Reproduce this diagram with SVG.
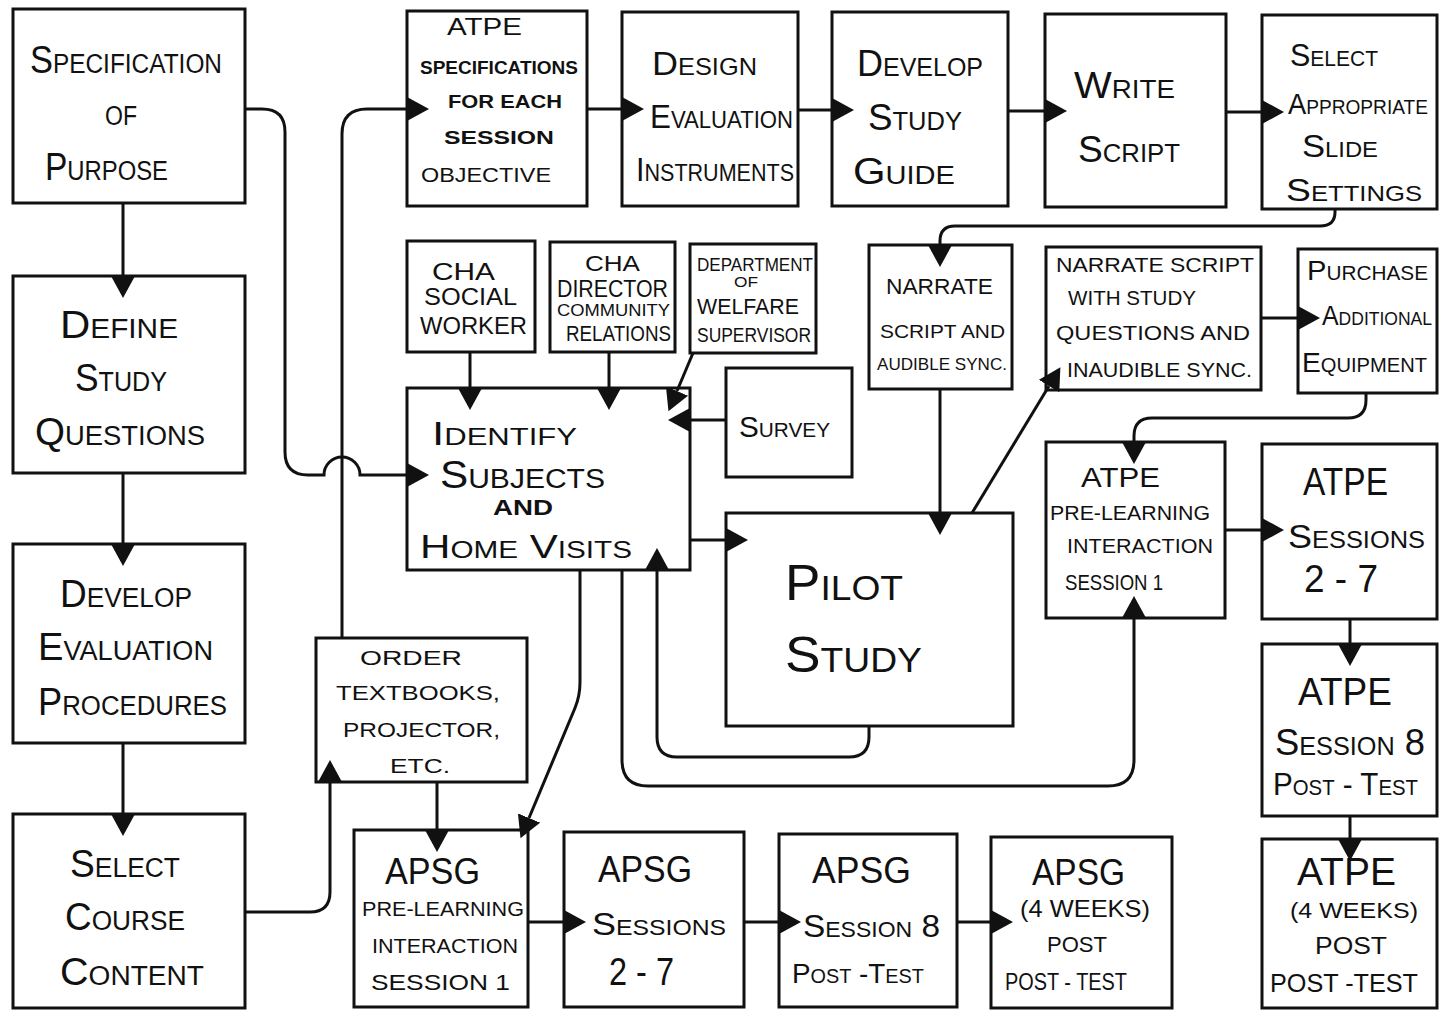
<svg xmlns="http://www.w3.org/2000/svg" width="1443" height="1012" viewBox="0 0 1443 1012">
<style>
.box{fill:#fff;stroke:#111;stroke-width:3}
text{font-family:"Liberation Sans",Arial,sans-serif;fill:#111}
.sc{font-variant:small-caps}
.b{font-weight:bold}
.c{fill:none;stroke:#111;stroke-width:3;marker-end:url(#ah)}
</style>
<defs>
<marker id="ah" markerUnits="userSpaceOnUse" markerWidth="24" markerHeight="24" refX="0" refY="12" orient="auto"><path d="M0,0 L22,12 L0,24 z" fill="#111"/></marker>
</defs>
<rect width="1443" height="1012" fill="#fff"/>
<g id="nodes">
<g id="n1"><rect class="box" x="13" y="9" width="232" height="194"/>
<text class="sc" font-size="38" x="30" y="73" textLength="192" lengthAdjust="spacingAndGlyphs">Specification</text>
<text class="sc" font-size="38" x="105" y="125" textLength="32" lengthAdjust="spacingAndGlyphs">of</text>
<text class="sc" font-size="38" x="45" y="180" textLength="123" lengthAdjust="spacingAndGlyphs">Purpose</text></g>
<g id="n2"><rect class="box" x="13" y="276" width="232" height="197"/>
<text class="sc" font-size="38" x="60" y="338" textLength="118" lengthAdjust="spacingAndGlyphs">Define</text>
<text class="sc" font-size="38" x="75" y="391" textLength="92" lengthAdjust="spacingAndGlyphs">Study</text>
<text class="sc" font-size="38" x="35" y="445" textLength="170" lengthAdjust="spacingAndGlyphs">Questions</text></g>
<g id="n3"><rect class="box" x="13" y="544" width="232" height="199"/>
<text class="sc" font-size="38" x="60" y="607" textLength="132" lengthAdjust="spacingAndGlyphs">Develop</text>
<text class="sc" font-size="38" x="38" y="660" textLength="175" lengthAdjust="spacingAndGlyphs">Evaluation</text>
<text class="sc" font-size="38" x="38" y="715" textLength="189" lengthAdjust="spacingAndGlyphs">Procedures</text></g>
<g id="n4"><rect class="box" x="13" y="814" width="232" height="194"/>
<text class="sc" font-size="38" x="70" y="877" textLength="110" lengthAdjust="spacingAndGlyphs">Select</text>
<text class="sc" font-size="38" x="65" y="930" textLength="120" lengthAdjust="spacingAndGlyphs">Course</text>
<text class="sc" font-size="38" x="60" y="985" textLength="144" lengthAdjust="spacingAndGlyphs">Content</text></g>
<g id="n5"><rect class="box" x="407" y="11" width="180" height="195"/>
<text font-size="24" x="447" y="35" textLength="75" lengthAdjust="spacingAndGlyphs">ATPE</text>
<text class="b" font-size="19" x="420" y="74" textLength="158" lengthAdjust="spacingAndGlyphs">SPECIFICATIONS</text>
<text class="b" font-size="19" x="448" y="108" textLength="114" lengthAdjust="spacingAndGlyphs">FOR EACH</text>
<text class="b" font-size="19" x="444" y="144" textLength="110" lengthAdjust="spacingAndGlyphs">SESSION</text>
<text font-size="21" x="421" y="182" textLength="130" lengthAdjust="spacingAndGlyphs">OBJECTIVE</text></g>
<g id="n6"><rect class="box" x="622" y="12" width="176" height="194"/>
<text class="sc" font-size="34" x="652" y="75" textLength="105" lengthAdjust="spacingAndGlyphs">Design</text>
<text class="sc" font-size="34" x="650" y="128" textLength="143" lengthAdjust="spacingAndGlyphs">Evaluation</text>
<text class="sc" font-size="34" x="636" y="181" textLength="158" lengthAdjust="spacingAndGlyphs">Instruments</text></g>
<g id="n7"><rect class="box" x="832" y="12" width="176" height="194"/>
<text class="sc" font-size="36" x="857" y="76" textLength="126" lengthAdjust="spacingAndGlyphs">Develop</text>
<text class="sc" font-size="36" x="868" y="130" textLength="94" lengthAdjust="spacingAndGlyphs">Study</text>
<text class="sc" font-size="36" x="853" y="184" textLength="102" lengthAdjust="spacingAndGlyphs">Guide</text></g>
<g id="n8"><rect class="box" x="1045" y="14" width="181" height="193"/>
<text class="sc" font-size="36" x="1074" y="98" textLength="101" lengthAdjust="spacingAndGlyphs">Write</text>
<text class="sc" font-size="36" x="1078" y="162" textLength="102" lengthAdjust="spacingAndGlyphs">Script</text></g>
<g id="n9"><rect class="box" x="1262" y="15" width="175" height="194"/>
<text class="sc" font-size="32" x="1290" y="66" textLength="88" lengthAdjust="spacingAndGlyphs">Select</text>
<text class="sc" font-size="30" x="1288" y="114" textLength="140" lengthAdjust="spacingAndGlyphs">Appropriate</text>
<text class="sc" font-size="32" x="1302" y="157" textLength="76" lengthAdjust="spacingAndGlyphs">Slide</text>
<text class="sc" font-size="32" x="1286" y="201" textLength="136" lengthAdjust="spacingAndGlyphs">Settings</text></g>
<g id="n10"><rect class="box" x="407" y="241" width="128" height="111"/>
<text font-size="24" x="432" y="280" textLength="63" lengthAdjust="spacingAndGlyphs">CHA</text>
<text font-size="24" x="424" y="305" textLength="93" lengthAdjust="spacingAndGlyphs">SOCIAL</text>
<text font-size="24" x="420" y="334" textLength="107" lengthAdjust="spacingAndGlyphs">WORKER</text></g>
<g id="n11"><rect class="box" x="550" y="242" width="125" height="110"/>
<text font-size="22" x="585" y="271" textLength="55" lengthAdjust="spacingAndGlyphs">CHA</text>
<text font-size="24" x="557" y="297" textLength="111" lengthAdjust="spacingAndGlyphs">DIRECTOR</text>
<text font-size="17" x="557" y="316" textLength="113" lengthAdjust="spacingAndGlyphs">COMMUNITY</text>
<text font-size="22" x="566" y="341" textLength="105" lengthAdjust="spacingAndGlyphs">RELATIONS</text></g>
<g id="n12"><rect class="box" x="690" y="244" width="126" height="109"/>
<text font-size="18" x="697" y="271" textLength="116" lengthAdjust="spacingAndGlyphs">DEPARTMENT</text>
<text font-size="15" x="734" y="287" textLength="24" lengthAdjust="spacingAndGlyphs">OF</text>
<text font-size="22" x="697" y="314" textLength="102" lengthAdjust="spacingAndGlyphs">WELFARE</text>
<text font-size="20" x="697" y="342" textLength="114" lengthAdjust="spacingAndGlyphs">SUPERVISOR</text></g>
<g id="n13"><rect class="box" x="407" y="388" width="283" height="182"/>
<text class="sc" font-size="34" x="432" y="445" textLength="145" lengthAdjust="spacingAndGlyphs">Identify</text>
<text class="sc" font-size="38" x="440" y="488" textLength="165" lengthAdjust="spacingAndGlyphs">Subjects</text>
<text class="b" font-size="22" x="493" y="515" textLength="60" lengthAdjust="spacingAndGlyphs">AND</text>
<text class="sc" font-size="34" x="420" y="558" textLength="212" lengthAdjust="spacingAndGlyphs">Home Visits</text></g>
<g id="n14"><rect class="box" x="726" y="368" width="126" height="109"/>
<text class="sc" font-size="30" x="739" y="437" textLength="91" lengthAdjust="spacingAndGlyphs">Survey</text></g>
<g id="n15"><rect class="box" x="869" y="245" width="143" height="144"/>
<text font-size="22" x="886" y="294" textLength="107" lengthAdjust="spacingAndGlyphs">NARRATE</text>
<text font-size="19" x="880" y="338" textLength="125" lengthAdjust="spacingAndGlyphs">SCRIPT AND</text>
<text font-size="17" x="877" y="370" textLength="130" lengthAdjust="spacingAndGlyphs">AUDIBLE SYNC.</text></g>
<g id="n16"><rect class="box" x="1046" y="247" width="215" height="143"/>
<text font-size="21" x="1056" y="272" textLength="198" lengthAdjust="spacingAndGlyphs">NARRATE SCRIPT</text>
<text font-size="21" x="1068" y="305" textLength="128" lengthAdjust="spacingAndGlyphs">WITH STUDY</text>
<text font-size="21" x="1056" y="340" textLength="194" lengthAdjust="spacingAndGlyphs">QUESTIONS AND</text>
<text font-size="21" x="1067" y="377" textLength="185" lengthAdjust="spacingAndGlyphs">INAUDIBLE SYNC.</text></g>
<g id="n17"><rect class="box" x="1298" y="249" width="139" height="144"/>
<text class="sc" font-size="28" x="1307" y="280" textLength="121" lengthAdjust="spacingAndGlyphs">Purchase</text>
<text class="sc" font-size="27" x="1322" y="325" textLength="110" lengthAdjust="spacingAndGlyphs">Additional</text>
<text class="sc" font-size="28" x="1302" y="372" textLength="125" lengthAdjust="spacingAndGlyphs">Equipment</text></g>
<g id="n18"><rect class="box" x="726" y="513" width="287" height="213"/>
<text class="sc" font-size="50" x="785" y="600" textLength="118" lengthAdjust="spacingAndGlyphs">Pilot</text>
<text class="sc" font-size="50" x="785" y="672" textLength="137" lengthAdjust="spacingAndGlyphs">Study</text></g>
<g id="n19"><rect class="box" x="1046" y="442" width="179" height="176"/>
<text font-size="28" x="1081" y="487" textLength="79" lengthAdjust="spacingAndGlyphs">ATPE</text>
<text font-size="21" x="1050" y="520" textLength="160" lengthAdjust="spacingAndGlyphs">PRE-LEARNING</text>
<text font-size="21" x="1067" y="553" textLength="146" lengthAdjust="spacingAndGlyphs">INTERACTION</text>
<text font-size="22" x="1065" y="590" textLength="98" lengthAdjust="spacingAndGlyphs">SESSION 1</text></g>
<g id="n20"><rect class="box" x="1262" y="444" width="175" height="175"/>
<text font-size="38" x="1303" y="495" textLength="85" lengthAdjust="spacingAndGlyphs">ATPE</text>
<text class="sc" font-size="34" x="1288" y="548" textLength="137" lengthAdjust="spacingAndGlyphs">Sessions</text>
<text font-size="38" x="1304" y="592" textLength="74" lengthAdjust="spacingAndGlyphs">2 - 7</text></g>
<g id="n21"><rect class="box" x="1262" y="644" width="175" height="172"/>
<text font-size="38" x="1298" y="705" textLength="94" lengthAdjust="spacingAndGlyphs">ATPE</text>
<text class="sc" font-size="36" x="1275" y="755" textLength="150" lengthAdjust="spacingAndGlyphs">Session 8</text>
<text class="sc" font-size="32" x="1273" y="795" textLength="145" lengthAdjust="spacingAndGlyphs">Post - Test</text></g>
<g id="n22"><rect class="box" x="1262" y="839" width="175" height="169"/>
<text font-size="38" x="1297" y="885" textLength="99" lengthAdjust="spacingAndGlyphs">ATPE</text>
<text font-size="22" x="1290" y="918" textLength="128" lengthAdjust="spacingAndGlyphs">(4 WEEKS)</text>
<text font-size="24" x="1315" y="954" textLength="72" lengthAdjust="spacingAndGlyphs">POST</text>
<text font-size="26" x="1270" y="992" textLength="148" lengthAdjust="spacingAndGlyphs">POST -TEST</text></g>
<g id="n23"><rect class="box" x="316" y="638" width="211" height="144"/>
<text font-size="21" x="360" y="665" textLength="102" lengthAdjust="spacingAndGlyphs">ORDER</text>
<text font-size="21" x="336" y="700" textLength="164" lengthAdjust="spacingAndGlyphs">TEXTBOOKS,</text>
<text font-size="21" x="343" y="737" textLength="157" lengthAdjust="spacingAndGlyphs">PROJECTOR,</text>
<text font-size="21" x="390" y="773" textLength="60" lengthAdjust="spacingAndGlyphs">ETC.</text></g>
<g id="n24"><rect class="box" x="354" y="830" width="174" height="177"/>
<text font-size="36" x="385" y="884" textLength="95" lengthAdjust="spacingAndGlyphs">APSG</text>
<text font-size="20" x="362" y="916" textLength="162" lengthAdjust="spacingAndGlyphs">PRE-LEARNING</text>
<text font-size="21" x="372" y="953" textLength="146" lengthAdjust="spacingAndGlyphs">INTERACTION</text>
<text font-size="22" x="371" y="990" textLength="139" lengthAdjust="spacingAndGlyphs">SESSION 1</text></g>
<g id="n25"><rect class="box" x="564" y="832" width="180" height="175"/>
<text font-size="36" x="598" y="882" textLength="94" lengthAdjust="spacingAndGlyphs">APSG</text>
<text class="sc" font-size="32" x="592" y="935" textLength="134" lengthAdjust="spacingAndGlyphs">Sessions</text>
<text font-size="38" x="609" y="985" textLength="65" lengthAdjust="spacingAndGlyphs">2 - 7</text></g>
<g id="n26"><rect class="box" x="779" y="834" width="178" height="173"/>
<text font-size="36" x="812" y="883" textLength="99" lengthAdjust="spacingAndGlyphs">APSG</text>
<text class="sc" font-size="32" x="803" y="937" textLength="137" lengthAdjust="spacingAndGlyphs">Session 8</text>
<text class="sc" font-size="28" x="792" y="983" textLength="132" lengthAdjust="spacingAndGlyphs">Post -Test</text></g>
<g id="n27"><rect class="box" x="991" y="837" width="181" height="171"/>
<text font-size="36" x="1032" y="885" textLength="93" lengthAdjust="spacingAndGlyphs">APSG</text>
<text font-size="24" x="1020" y="917" textLength="130" lengthAdjust="spacingAndGlyphs">(4 WEEKS)</text>
<text font-size="22" x="1047" y="952" textLength="60" lengthAdjust="spacingAndGlyphs">POST</text>
<text font-size="24" x="1005" y="990" textLength="122" lengthAdjust="spacingAndGlyphs">POST - TEST</text></g>
</g>
<g id="connectors">
<path class="c" d="M123,203 V276"/>
<path class="c" d="M123,473 V544"/>
<path class="c" d="M123,743 V814"/>
<path class="c" d="M245,109 H262 Q285,109 285,132 V452 Q285,475 308,475 H324 A18,18 0 0 1 360,475 H407"/>
<path class="c" d="M342,638 V134 Q342,109 367,109 H407"/>
<path class="c" d="M245,912 H310 Q330,912 330,892 V782"/>
<path class="c" d="M437,782 V830"/>
<path class="c" d="M580,570 V682 Q580,696 575,708 L529,818"/>
<path class="c" d="M622,570 V760 Q622,786 648,786 H1108 Q1134,786 1134,760 V618"/>
<path class="c" d="M869,726 V737 Q869,757 849,757 H677 Q657,757 657,737 V570"/>
<path class="c" d="M690,540 H726"/>
<path class="c" d="M470,352 V388"/>
<path class="c" d="M609,352 V388"/>
<path class="c" d="M693,353 L677,391"/>
<path class="c" d="M726,420 H690"/>
<path class="c" d="M1335,209 V212 Q1335,226 1320,226 H955 Q940,226 940,241 V245"/>
<path class="c" d="M940,389 V513"/>
<path class="c" d="M972,513 L1049,386"/>
<path class="c" d="M1261,318 H1298"/>
<path class="c" d="M1366,393 V400 Q1366,418 1348,418 H1152 Q1134,418 1134,436 V442"/>
<path class="c" d="M1225,530 H1262"/>
<path class="c" d="M1350,619 V644"/>
<path class="c" d="M1350,816 V839"/>
<path class="c" d="M587,109 H622"/>
<path class="c" d="M798,110 H832"/>
<path class="c" d="M1008,111 H1045"/>
<path class="c" d="M1226,112 H1262"/>
<path class="c" d="M528,922 H564"/>
<path class="c" d="M744,922 H779"/>
<path class="c" d="M957,922 H991"/>
</g>
</svg>
